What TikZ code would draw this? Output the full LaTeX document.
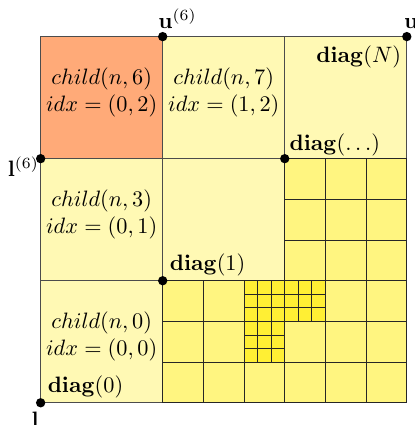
\documentclass[tikz,border=0pt]{standalone}
\usepackage{amsmath}
\usepackage{amssymb}
\usepackage{xcolor}
\usetikzlibrary{positioning}

\definecolor{paleyellow}{RGB}{255,249,180}
\definecolor{peach}{RGB}{255,170,120}
\definecolor{midyellow}{RGB}{255,245,128}
\definecolor{deepyellow}{RGB}{255,239,52}

\begin{document}
\begin{tikzpicture}[
    x=1.926cm, y=1.926cm,
    bigcell/.style={draw=black!70, fill=paleyellow},
    subcell/.style={draw=black!85, fill=midyellow},
    tinycell/.style={draw=black!85, fill=deepyellow},
    dot/.style={circle, fill=black, inner sep=0pt, minimum size=4.2pt},
    childtxt/.style={align=center},
    diagtxt/.style={anchor=south west, inner xsep=3pt, inner ysep=1.8pt}
  ]
    \useasboundingbox (-0.333,-0.182) rectangle (3.065,3.300);
    % level 0
    \foreach \i in {0,1,2}
      \foreach \j in {0,1,2}
        \draw[bigcell] (\i,\j) rectangle ++(1,1);
    \draw[bigcell, fill=peach] (0,2) rectangle ++(1,1);
    % level 1
    \foreach \bx/\by in {1/0, 2/0, 2/1}
      \foreach \i in {0,1,2}
        \foreach \j in {0,1,2}
          \draw[subcell] (\bx+\i/3,\by+\j/3) rectangle ++(1/3,1/3);
    % level 2
    \foreach \bx/\by in {5/2, 6/2, 5/1}
      \foreach \i in {0,1,2}
        \foreach \j in {0,1,2}
          \draw[tinycell] (\bx/3+\i/9,\by/3+\j/9) rectangle ++(1/9,1/9);

    \node[childtxt] (c6) at (0.5,2.545) {$child(n,6)$\\$idx=(0,2)$};
    \node[childtxt] (c7) at (1.5,2.545) {$child(n,7)$\\$idx=(1,2)$};
    \node[childtxt] (c3) at (0.5,1.545) {$child(n,3)$\\$idx=(0,1)$};
    \node[childtxt] (c0) at (0.5,0.545) {$child(n,0)$\\$idx=(0,0)$};

    \node[dot] (l) at (0,0) {};
    \node[dot] (l6) at (0,2) {};
    \node[dot] (u6) at (1,3) {};
    \node[dot] (u) at (3,3) {};
    \node[dot] (d1) at (1,1) {};
    \node[dot] (dd) at (2,2) {};

    \node[anchor=base east, inner sep=0pt, xshift=-0.6pt, yshift=-11pt] (lt) at (l.center) {$\mathbf{l}$};
    \node[anchor=base east, inner sep=0pt, xshift=-0.6pt, yshift=-8pt] (l6t) at (l6.center) {$\mathbf{l}^{(6)}$};
    \node[anchor=base west, inner sep=0pt, xshift=-2.1pt, yshift=3.8pt] (u6t) at (u6.center) {$\mathbf{u}^{(6)}$};
    \node[anchor=base west, inner sep=0pt, xshift=-1.4pt, yshift=3.8pt] (ut) at (u.center) {$\mathbf{u}$};

    \node[diagtxt] (g0) at (l.center) {$\mathbf{diag}(0)$};
    \node[diagtxt] (g1) at (d1.center) {$\mathbf{diag}(1)$};
    \node[diagtxt, inner xsep=2pt, inner ysep=0.8pt] (gd) at (dd.center) {$\mathbf{diag}(\ldots)$};
    \node[anchor=north east, inner xsep=2.4pt, inner ysep=3.7pt] (gn) at (u.center) {$\mathbf{diag}(N)$};
  \end{tikzpicture}
\end{document}
